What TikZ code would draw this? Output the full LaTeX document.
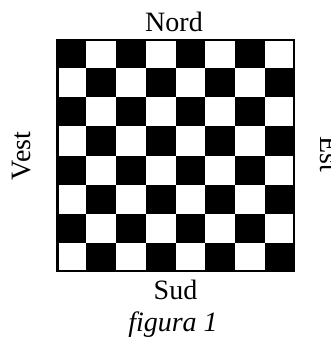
\documentclass[tikz,border=0pt]{standalone}
\usepackage{fontspec}
\setmainfont{Liberation Serif}
\begin{document}
\begin{tikzpicture}[x=1pt,y=-1pt,
  lbl/.style={inner sep=0pt,outer sep=0pt,anchor=base,font=\fontsize{28}{32}\selectfont},
  cellfill/.style={fill=black},
  frame/.style={draw=black,line width=2.5pt}]
\useasboundingbox (0,0) rectangle (331,337);
\clip (0,0) rectangle (331,337);
\foreach \i in {0,...,7}{
  \foreach \j in {0,...,7}{
    \pgfmathtruncatemacro\cellodd{mod(\i+\j,2)}
    \ifnum\cellodd=0
      \fill[cellfill] (56+\i*29.875,39+\j*29.125) rectangle ++(29.875,29.125);
    \fi
  }
}
\draw[frame] (57.25,40.25) rectangle (293.75,270.75);
\node[lbl] (nord) at (174,31.7) {Nord};
\node[lbl] (sud) at (175.5,299.7) {Sud};
\node[lbl,font=\fontsize{28}{32}\selectfont\itshape] (fig) at (173,331.3) {figura 1};
\node[lbl,rotate=90] (vest) at (30,156) {Vest};
\node[lbl,rotate=-90] (est) at (320,154.7) {Est};
\end{tikzpicture}
\end{document}
